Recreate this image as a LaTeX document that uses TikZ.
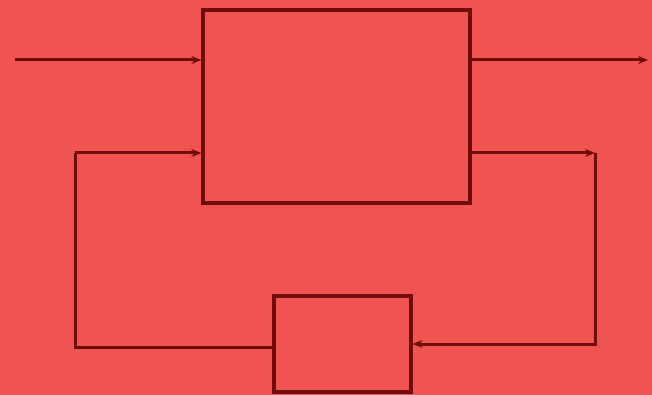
\documentclass[tikz,border=0pt]{standalone}
\usetikzlibrary{arrows.meta,calc}
\definecolor{bg}{HTML}{EF5450}
\definecolor{ln}{HTML}{700C0C}
\begin{document}
\begin{tikzpicture}[x=1pt,y=-1pt,
  blk/.style={draw=ln,line width=3.2pt,fill=bg,inner sep=0pt},
  wire/.style={draw=ln,line width=3pt},
  tip/.style={-{Stealth[length=10pt,width=8pt]}}]
\fill[bg] (0,0) rectangle (652,395);
\useasboundingbox (0,0) rectangle (652,395);
\node[blk,minimum width=267pt,minimum height=193pt] (big) at (336.5,106.5) {};
\node[blk,minimum width=137pt,minimum height=96pt] (small) at (342.5,344) {};
\coordinate (in) at (15,60);
\coordinate (out) at (648,60);
\coordinate (fbr) at (595,153);
\coordinate (fbrb) at (595,344);
\coordinate (fbl) at (75,347);
\coordinate (fblt) at (75,153);
\draw[wire,tip] (in) -- (in -| big.west);
\draw[wire,tip] (big.east |- out) -- (out);
\draw[wire,tip] (big.east |- fbr) -- (fbr);
\draw[wire,tip] (fbr) -- (fbrb) -- (small.east |- fbrb);
\draw[wire] (small.west |- fbl) -- (fbl) -- (fblt);
\draw[wire,tip] (fblt) -- (fblt -| big.west);
\end{tikzpicture}
\end{document}
